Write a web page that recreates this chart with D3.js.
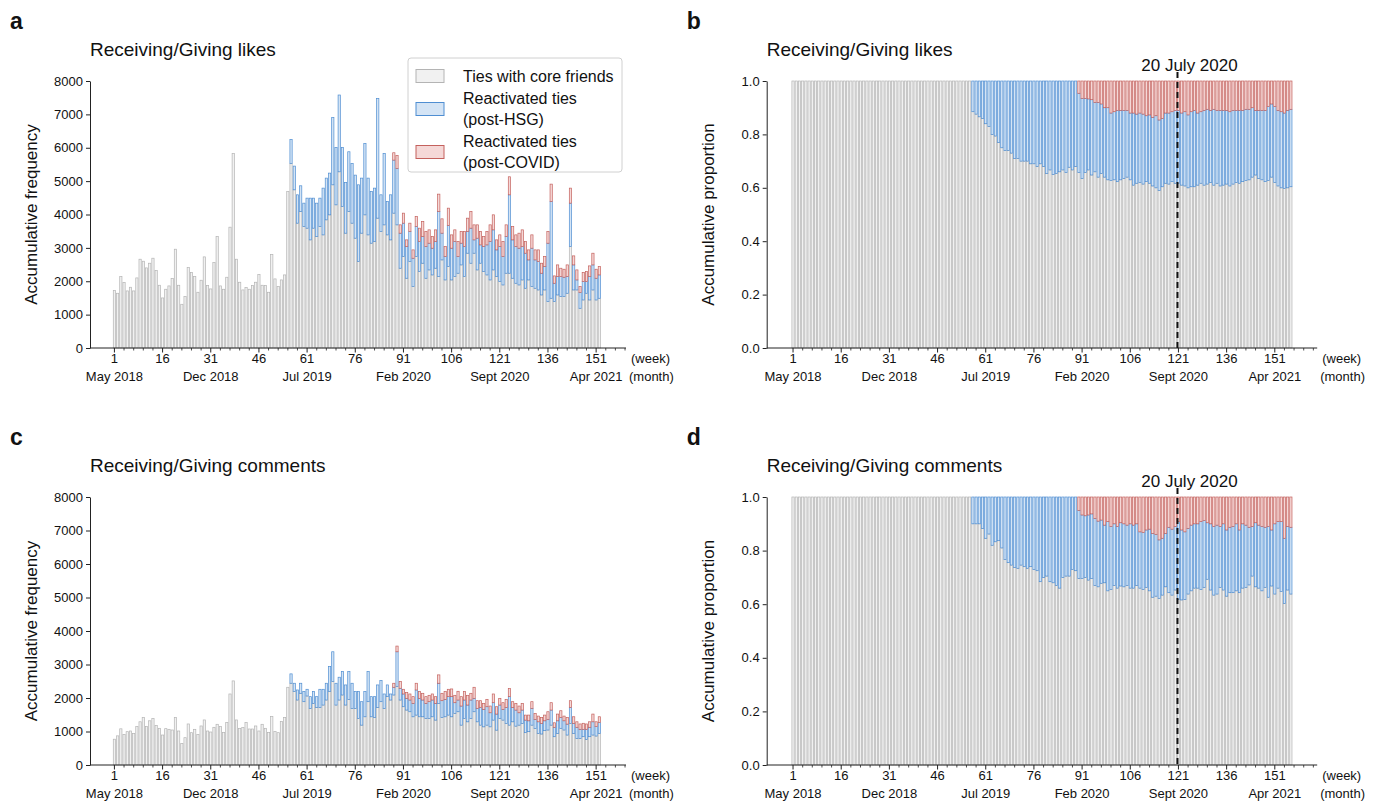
<!DOCTYPE html>
<html><head><meta charset="utf-8">
<script src="https://cdn.jsdelivr.net/npm/d3@7"></script>
<style>
body{margin:0;background:#fff;}
svg text{font-family:"Liberation Sans",Arial,Helvetica,sans-serif;fill:#111;}
</style>
</head><body>
<svg id="chart" width="1392" height="802"></svg>
<script>
// ---------------- DATA ----------------
const weekTicks = [1,16,31,46,61,76,91,106,121,136,151];
const monthTickWeeks = [1,31,61,91,121,151];
const monthTickLabels = ["May 2018","Dec 2018","Jul 2019","Feb 2020","Sept 2020","Apr 2021"];
const markerWeek = 120.7;    // dashed line position in proportion panels
const markerLabel = "20 July 2020";

// frequency panels (a, c): weeks 1..152
const freqWeeks = d3.range(1, 153);
const freqHsgStart = 56, freqCovidStart = 88;
// proportion panels (b, d): weeks 1..156
const propWeeks = d3.range(1, 157);
const propHsgStart = 57, propCovidStart = 90;

// panel a: likes, frequency
const likesCore = [1720,1640,2140,1960,1710,1820,1710,2100,2660,2600,
2400,2540,2690,2320,1880,1500,1760,1860,2080,2960,
1880,1310,1540,2410,2260,2140,1670,2030,2730,1870,
1770,2560,3340,1860,1760,2120,3620,5830,2660,1970,
1740,1810,1760,1870,1970,2200,1880,1870,1670,2800,
2070,1840,2040,2190,4690,
5530,4740,3740,4090,3640,3590,3240,3590,3340,3640,
3390,3840,3990,4890,4290,5280,4240,3440,4090,3740,
3290,2590,3440,3990,3390,3140,3190,3890,3490,3690,
3390,3240,4040,3690,2390,2740,2090,2590,1840,2740,
2290,2540,2090,2340,2190,2390,2140,2640,2040,2440,
2040,2140,2240,2490,2140,2840,2540,2840,2340,2540,
2290,2190,2040,2340,2140,1990,1890,2240,2240,2090,
1940,1890,2040,1790,2040,1840,1790,1740,1590,1740,
1390,1490,1390,1590,1540,1540,1640,3040,1740,1740,
1190,1440,1640,1440,1740,1440,1490];
const likesHSG = [720,710,850,770,700,900,1250,900,1000,850,
1400,1250,1250,2020,1720,2300,1770,1520,1790,1790,
1890,2300,1650,2140,1700,1550,1600,3590,1100,2140,
1000,1350,1590,1690,1050,1000,950,900,850,900,
900,800,950,800,800,800,1950,800,700,1230,
950,1050,500,650,900,650,1050,400,950,550,
750,900,1150,1200,800,1050,850,1100,2350,1150,
1100,1100,1000,1050,600,1150,850,850,650,700,
1750,2900,550,550,600,580,500,1300,750,300,
470,550,350,700,750,650,700];
const likesCOVID = [220,390,250,300,200,250,250,300,
400,450,450,400,350,350,520,430,300,520,
400,350,450,350,450,400,500,450,400,400,
300,400,500,450,300,350,450,350,540,400,
350,450,500,350,300,400,300,350,300,300,
350,520,220,350,250,240,350,450,270,300,
180,270,300,320,350,270,250];

// panel c: comments, frequency
const commentsCore = [770,870,1080,915,995,1015,945,1145,1290,1420,
1145,1320,1390,1180,1095,895,1085,1065,1045,1420,
1015,645,815,1225,965,1065,915,1165,1345,1015,
985,1125,1215,1145,975,1265,2120,2510,1345,1095,
1115,1265,1075,1075,1165,1015,1215,1095,975,1445,
1000,965,1295,1415,2320,
2440,2190,1940,2140,1890,2060,1690,1840,1720,1720,
1790,1940,2190,2490,1790,1940,2090,1790,1960,1690,
1690,1390,1190,1440,1890,1440,1420,1720,1890,1690,
2040,1940,2090,2340,1940,1740,1640,1590,1440,1490,
1440,1440,1390,1390,1440,1340,1840,1420,1440,1490,
1440,1540,1590,1190,1390,1290,1390,1590,1290,1190,
1140,1190,1140,1340,1040,1390,1340,1240,1190,1290,
1160,1190,1240,965,995,1190,1090,945,925,1025,
1045,1190,845,945,1095,1045,895,1240,945,795,
795,845,765,845,895,865,945];
const commentsHSG = [280,250,300,300,300,200,350,350,320,540,
470,500,750,890,650,680,700,600,830,750,
500,800,700,750,900,600,620,670,630,430,
350,180,230,1040,350,380,350,350,400,750,
550,500,450,500,500,500,600,500,520,550,
600,320,350,570,550,500,550,400,400,530,
520,550,420,520,480,400,320,480,850,430,
480,370,400,375,325,500,270,345,315,295,
315,450,280,375,325,275,325,480,295,330,
270,220,300,280,395,280,320];
const commentsCOVID = [120,170,200,140,170,180,200,200,
200,200,200,190,180,200,250,220,230,220,
230,220,260,280,250,290,200,330,230,200,
180,220,200,260,220,200,200,240,240,170,
200,200,200,150,170,200,180,170,180,170,
230,220,135,200,200,140,200,200,200,165,
160,180,160,165,230,145,175];

// panel b: likes, proportion (weeks 1..156)
const likesShareCore = [1,1,1,1,1,1,1,1,1,1, 1,1,1,1,1,1,1,1,1,1, 1,1,1,1,1,1,1,1,1,1,
1,1,1,1,1,1,1,1,1,1, 1,1,1,1,1,1,1,1,1,1, 1,1,1,1,1,1,
0.885,0.876,0.866,0.86,0.84,0.83,0.80,0.794,0.77,0.75,0.74,0.74,0.73,0.71,0.71,0.70,
0.70,
0.70,0.69,0.69,0.68, 0.69,0.68,0.654,0.667,0.65,0.654,0.66,0.667,0.657,0.677, 0.667,0.68,
0.657,0.635,0.657,0.667,0.648,0.66,0.64,0.654, 0.64,0.63,0.627,0.63,0.623,0.63,0.635,0.64,0.63,0.61,
0.617,0.62,0.614,0.623,0.617,0.607,
0.60,
0.59,0.604,0.617,0.614, 0.623,0.617,0.617,0.61,0.607,0.60,0.604,0.604,0.61,0.617,
0.61,0.614,0.62,0.61,0.617,0.607,0.61,0.614,0.607,0.614, 0.62,0.617,0.623,0.627,0.63,0.64,0.648,0.635,
0.63,
0.623,0.627, 0.64,0.62,0.607,0.60,0.598,0.60,0.604];
const likesShareHSG = [0.115,0.124,0.134,0.14,0.16,0.17,0.20,0.206,0.23,0.25,0.26,0.26,0.27,0.29,0.29,0.30,
0.30,
0.30,0.31,0.31,0.32, 0.31,0.32,0.346,0.333,0.35,0.346,0.34,0.333,0.343,0.323, 0.333,0.32,
0.297,0.30,0.278,0.266,0.282,0.26,0.28,0.26, 0.26,0.27,0.253,0.255,0.267,0.26,0.255,0.25,0.25,0.27,
0.259,0.26,0.262,0.247,0.256,0.257,
0.27,
0.264,0.256,0.263,0.266, 0.262,0.273,0.273,0.27,0.278,0.273,0.281,0.286,0.27,0.268,
0.28,0.28,0.27,0.284,0.273,0.283,0.28,0.276,0.278,0.276, 0.27,0.273,0.267,0.267,0.264,0.26,0.242,0.255,
0.26,
0.267,0.277, 0.274,0.284,0.283,0.285,0.282,0.29,0.29];
const likesShareCOVID = [0.046,0.065,0.065,0.067,0.07,0.08,0.08,0.086,
0.10,0.10,0.12,0.115,0.11,0.11,0.11,0.11,0.12,0.12,
0.124,0.12,0.124,0.13,0.127,0.136,
0.13,
0.146,0.14,0.12,0.12, 0.115,0.11,0.11,0.12,0.115,0.127,0.115,0.11,0.12,0.115,
0.11,0.106,0.11,0.106,0.11,0.11,0.11,0.11,0.115,0.11, 0.11,0.11,0.11,0.106,0.106,0.10,0.11,0.11,
0.11,
0.11,0.096, 0.086,0.096,0.11,0.115,0.12,0.11,0.106];

// panel d: comments, proportion (weeks 1..156)
const commentsShareCore = [1,1,1,1,1,1,1,1,1,1, 1,1,1,1,1,1,1,1,1,1, 1,1,1,1,1,1,1,1,1,1,
1,1,1,1,1,1,1,1,1,1, 1,1,1,1,1,1,1,1,1,1, 1,1,1,1,1,1,
0.90,0.90,0.90,0.883,0.846,0.862,0.82,0.833,0.837,0.81,0.767,0.755,0.746,0.737,0.734,0.746,
0.74,
0.734,0.74,0.73,0.725, 0.684,0.70,0.705,0.684,0.68,0.67,0.66,0.70,0.705,0.705, 0.73,0.725,
0.696,0.696,0.70,0.69,0.696,0.67,0.665,0.678, 0.68,0.65,0.655,0.67,0.66,0.668,0.665,0.67,0.66,0.66,
0.67,0.66,0.655,0.663,0.65,0.626,
0.63,
0.622,0.634,0.665,0.643, 0.634,0.653,0.618,0.616,0.618,0.638,0.65,0.66,0.66,0.655,
0.663,0.693,0.653,0.634,0.638,0.663,0.653,0.63,0.643,0.643, 0.65,0.643,0.66,0.663,0.672,0.705,0.665,0.66,
0.65,
0.663,0.626, 0.668,0.638,0.66,0.647,0.603,0.653,0.638];
const commentsShareHSG = [0.10,0.10,0.10,0.117,0.154,0.138,0.18,0.167,0.163,0.19,0.233,0.245,0.254,0.263,0.266,0.254,
0.26,
0.266,0.26,0.27,0.275, 0.316,0.30,0.295,0.316,0.32,0.33,0.34,0.30,0.295,0.295, 0.27,0.275,
0.254,0.237,0.23,0.243,0.241,0.25,0.245,0.236, 0.215,0.258,0.235,0.23,0.23,0.236,0.235,0.225,0.24,0.235,
0.23,0.21,0.212,0.214,0.23,0.238,
0.23,
0.218,0.212,0.199,0.244, 0.246,0.237,0.29,0.261,0.252,0.245,0.245,0.24,0.24,0.253,
0.249,0.211,0.247,0.256,0.257,0.227,0.247,0.247,0.244,0.247, 0.25,0.234,0.24,0.232,0.215,0.185,0.239,0.235,
0.24,
0.224,0.264, 0.209,0.262,0.248,0.261,0.243,0.237,0.249];
const commentsShareCOVID = [0.05,0.067,0.07,0.067,0.063,0.08,0.09,0.086,
0.105,0.092,0.11,0.10,0.11,0.096,0.10,0.105,0.10,0.105,
0.10,0.13,0.133,0.123,0.12,0.136,
0.14,
0.16,0.154,0.136,0.113, 0.12,0.11,0.092,0.123,0.13,0.117,0.105,0.10,0.10,0.092,
0.088,0.096,0.10,0.11,0.105,0.11,0.10,0.123,0.113,0.11, 0.10,0.123,0.10,0.105,0.113,0.11,0.096,0.105,
0.11,
0.113,0.11, 0.123,0.10,0.092,0.092,0.154,0.11,0.113];

const freqTicks = [0,1000,2000,3000,4000,5000,6000,7000,8000];
const propTicks = [0,0.2,0.4,0.6,0.8,1.0];

// ---------------- STYLE ----------------
const keys = ["core","hsg","covid"];
const fills = ["#f1f1f1","#d4e4f5","#f5d8d7"];
const strokes = ["#b4b4b4","#4f8ed2","#c4615d"];

function buildRows(weeks, hsgStart, covidStart, core, hsg, covid){
  return weeks.map((w,i)=>({
    week:w,
    core:core[i],
    hsg: w>=hsgStart ? hsg[w-hsgStart] : 0,
    covid: w>=covidStart ? covid[w-covidStart] : 0
  }));
}

const svg = d3.select("#chart");

function drawPanel(cfg){
  const g = svg.append("g");
  const x = d3.scaleLinear().domain(cfg.xDomain).range([cfg.left, cfg.right]);
  const y = d3.scaleLinear().domain(cfg.yDomain).range([cfg.bottom, cfg.top]);
  const step = x(2)-x(1);
  const bw = step*0.7;
  const series = d3.stack().keys(keys)(cfg.rows);
  series.forEach((s,si)=>{
    g.append("g").selectAll("rect")
      .data(s.filter(d=>d[1]-d[0]>0))
      .join("rect")
      .attr("x", d=>x(d.data.week)-bw/2)
      .attr("width", bw)
      .attr("y", d=>y(d[1]))
      .attr("height", d=>y(d[0])-y(d[1]))
      .attr("fill", fills[si])
      .attr("stroke", strokes[si])
      .attr("stroke-width", 0.7);
  });

  // y axis
  const ya = g.append("g").attr("transform",`translate(${cfg.left},0)`)
    .call(d3.axisLeft(y).tickValues(cfg.yTicks).tickSize(4).tickSizeOuter(0).tickPadding(3).tickFormat(cfg.yFormat));
  ya.selectAll("text").style("font-size","13px").style("font-family","Liberation Sans, Arial, sans-serif");
  ya.select(".domain").attr("stroke","#222");
  ya.selectAll(".tick line").attr("stroke","#222");

  // x axis
  const xa = g.append("g").attr("transform",`translate(0,${cfg.bottom})`);
  xa.append("line").attr("x1",cfg.left).attr("x2",cfg.right).attr("stroke","#222");
  const minor = d3.range(1,cfg.xDomain[1],3).filter(w=>!weekTicks.includes(w));
  xa.selectAll("line.minor").data(minor).join("line").attr("class","minor")
    .attr("x1",d=>x(d)).attr("x2",d=>x(d)).attr("y1",0).attr("y2",2.5).attr("stroke","#222").attr("stroke-width",0.8);
  xa.selectAll("line.major").data(weekTicks).join("line").attr("class","major")
    .attr("x1",d=>x(d)).attr("x2",d=>x(d)).attr("y1",0).attr("y2",4.5).attr("stroke","#222");
  xa.selectAll("text.wk").data(weekTicks).join("text").attr("class","wk")
    .attr("x",d=>x(d)).attr("y",15).attr("text-anchor","middle").style("font-size","13px").text(d=>d);
  xa.selectAll("text.mo").data(monthTickWeeks).join("text").attr("class","mo")
    .attr("x",d=>x(d)).attr("y",33).attr("text-anchor","middle").style("font-size","13px")
    .text((d,i)=>monthTickLabels[i]);
  xa.append("text").attr("x",cfg.right+5).attr("y",15).style("font-size","13px").text("(week)");
  xa.append("text").attr("x",cfg.right+3).attr("y",33).style("font-size","13px").text("(month)");

  // y label
  g.append("text").attr("transform",`translate(${cfg.left-53},${(cfg.top+cfg.bottom)/2}) rotate(-90)`)
    .attr("text-anchor","middle").style("font-size","17px").text(cfg.ylabel);
  // title and letter
  g.append("text").attr("x",cfg.left).attr("y",cfg.top-25).style("font-size","19px").text(cfg.title);
  g.append("text").attr("x",cfg.left-80).attr("y",cfg.top-52).style("font-size","23px").style("font-weight","bold").text(cfg.letter);

  if(cfg.marker){
    g.append("line").attr("x1",x(markerWeek)).attr("x2",x(markerWeek))
      .attr("y1",cfg.top-9).attr("y2",cfg.bottom).attr("stroke","#111").attr("stroke-width",2)
      .attr("stroke-dasharray","6,4");
    g.append("text").attr("x",x(markerWeek)+12).attr("y",cfg.top-10).attr("text-anchor","middle")
      .style("font-size","17px").text(markerLabel);
  }
  return {g,x,y};
}

const freqX = [-6.6,160.3], propX = [-7.2,164.2];
drawPanel({letter:"a", title:"Receiving/Giving likes", ylabel:"Accumulative frequency",
  left:90, right:626, xDomain:freqX, top:81, bottom:348, yDomain:[0,8000], yTicks:freqTicks, yFormat:d3.format("d"),
  rows:buildRows(freqWeeks, freqHsgStart, freqCovidStart, likesCore, likesHSG, likesCOVID)});
drawPanel({letter:"b", title:"Receiving/Giving likes", ylabel:"Accumulative proportion",
  left:766.7, right:1317.2, xDomain:propX, top:81, bottom:348, yDomain:[0,1], yTicks:propTicks, yFormat:d3.format(".1f"),
  rows:buildRows(propWeeks, propHsgStart, propCovidStart, likesShareCore, likesShareHSG, likesShareCOVID), marker:true});
drawPanel({letter:"c", title:"Receiving/Giving comments", ylabel:"Accumulative frequency",
  left:90, right:626, xDomain:freqX, top:497, bottom:765, yDomain:[0,8000], yTicks:freqTicks, yFormat:d3.format("d"),
  rows:buildRows(freqWeeks, freqHsgStart, freqCovidStart, commentsCore, commentsHSG, commentsCOVID)});
drawPanel({letter:"d", title:"Receiving/Giving comments", ylabel:"Accumulative proportion",
  left:766.7, right:1317.2, xDomain:propX, top:497, bottom:765, yDomain:[0,1], yTicks:propTicks, yFormat:d3.format(".1f"),
  rows:buildRows(propWeeks, propHsgStart, propCovidStart, commentsShareCore, commentsShareHSG, commentsShareCOVID), marker:true});

// legend in panel a
const lg = svg.append("g");
lg.append("rect").attr("x",408).attr("y",58).attr("width",214).attr("height",114).attr("rx",3)
  .attr("fill","#fff").attr("fill-opacity",0.85).attr("stroke","#d0d0d0");
const legendRows = [{cy:76, lines:["Ties with core friends"]},
                    {cy:109, lines:["Reactivated ties","(post-HSG)"]},
                    {cy:152, lines:["Reactivated ties","(post-COVID)"]}];
legendRows.forEach((r,i)=>{
  lg.append("rect").attr("x",416).attr("y",r.cy-6.5).attr("width",28).attr("height",13)
    .attr("fill",fills[i]).attr("stroke",strokes[i]).attr("stroke-width",1);
  const n = r.lines.length;
  r.lines.forEach((t,j)=>{
    lg.append("text").attr("x",463).attr("y",r.cy+5.5+(j-(n-1)/2)*21).style("font-size","16px").text(t);
  });
});
</script>
</body></html>
